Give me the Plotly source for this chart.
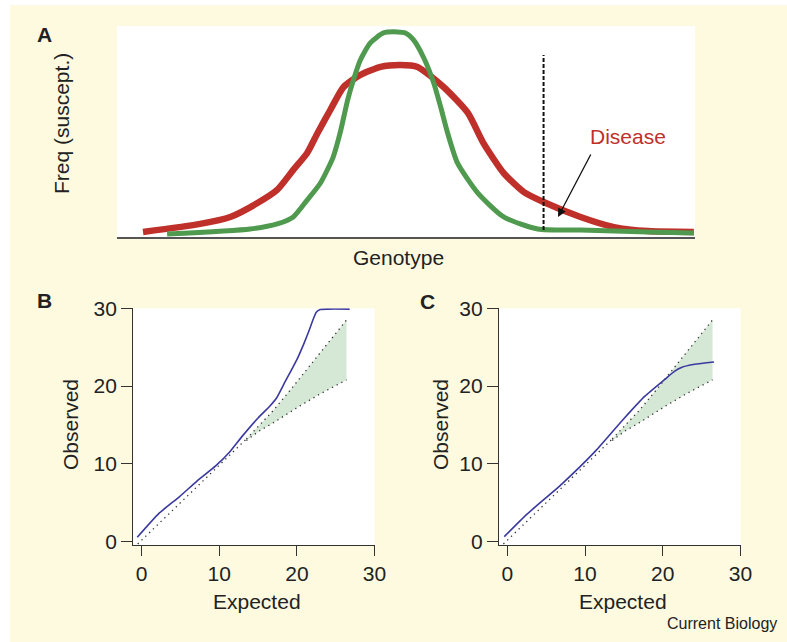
import plotly.graph_objects as go

# Page is 787x642; the body keeps its default 8px margin, so the figure is 771x626 placed at (8, 8).
PAGE_W, PAGE_H = 787, 642
OFF = 8
W, H = PAGE_W - 2 * OFF, PAGE_H - 2 * OFF

# ---------------- Panel A data (genotype scale 0-100, relative frequency) ----------------
green_x = [8.67, 23.05, 27.73, 30.5, 32.9, 35.2, 37.4, 38.6, 39.9, 40.9, 42.1, 43.8, 46.1, 48.5,
           49.9, 51.3, 53.0, 54.8, 56.0, 57.2, 58.9, 62.4, 66.9, 72.8, 80.2, 91.9, 99.8]
green_y = [0.014, 0.038, 0.062, 0.095, 0.175, 0.256, 0.379, 0.493, 0.649, 0.744, 0.839, 0.919, 0.967, 0.972,
           0.967, 0.934, 0.853, 0.730, 0.616, 0.493, 0.351, 0.209, 0.095, 0.038, 0.033, 0.024, 0.019]
red_x = [4.5, 14.4, 19.6, 24.3, 27.7, 30.5, 32.9, 34.7, 36.9, 39.2, 42.1, 45.6, 49.0, 52.0,
         56.5, 60.7, 63.4, 66.9, 70.4, 73.8, 80.2, 86.0, 91.9, 99.8]
red_y = [0.024, 0.062, 0.095, 0.161, 0.223, 0.318, 0.398, 0.493, 0.602, 0.711, 0.768, 0.806, 0.815, 0.806,
         0.711, 0.588, 0.445, 0.303, 0.213, 0.166, 0.095, 0.047, 0.028, 0.024]
threshold_x = 73.8
threshold_y = [0.033, 0.863]

# ---------------- Panels B / C data (QQ plots) ----------------
diag_x = [-0.5, 13.5]
diag_y = [-0.3, 13.2]
upper_x = [13.5, 17.0, 19.0, 21.3, 23.8, 26.4]
upper_y = [13.2, 16.9, 19.3, 22.2, 25.2, 28.5]
lower_x = [13.5, 15.1, 17.0, 20.3, 23.0, 26.4]
lower_y = [13.0, 14.2, 15.3, 17.4, 19.0, 20.8]

obsB_x = [-0.56, 2.2, 4.9, 7.1, 9.5, 11.4, 13.0, 15.0, 16.5, 17.4, 18.4, 19.1, 20.0, 20.8, 21.6, 22.1, 22.5, 23.0, 24.0, 26.8]
obsB_y = [0.56, 3.6, 5.8, 7.76, 9.7, 11.6, 13.6, 15.9, 17.4, 18.5, 20.4, 21.7, 23.4, 25.2, 27.2, 28.6, 29.5, 29.85, 29.9, 29.9]
obsC_x = [-0.39, 2.5, 7.0, 11.3, 14.9, 17.7, 20.3, 21.5, 22.4, 24.1, 26.6]
obsC_y = [0.64, 3.5, 7.4, 11.6, 15.7, 18.7, 20.9, 21.9, 22.4, 22.8, 23.1]

qq_ticks = [0, 10, 20, 30]

CREAM = "#fefae0"
RED = "#c0302b"
GREEN = "#4f9a4f"
BLUE = "#3a3a9e"
SHADE = "#d5e8d5"
TXT = "#222222"
FONT = "Liberation Sans, Arial, sans-serif"

def fx(px):
    return (px - OFF) / W

def fy(py):
    return 1 - (py - OFF) / H

fig = go.Figure()

fig.add_trace(go.Scatter(x=red_x, y=red_y, mode="lines", line=dict(color=RED, width=6.5, shape="spline", smoothing=0.6),
                         xaxis="x", yaxis="y", showlegend=False, hoverinfo="skip"))
fig.add_trace(go.Scatter(x=green_x, y=green_y, mode="lines", line=dict(color=GREEN, width=5, shape="spline", smoothing=0.6),
                         xaxis="x", yaxis="y", showlegend=False, hoverinfo="skip"))
fig.add_trace(go.Scatter(x=[threshold_x, threshold_x], y=threshold_y, mode="lines",
                         line=dict(color="#111111", width=2, dash="4px,2px"),
                         xaxis="x", yaxis="y", showlegend=False, hoverinfo="skip"))

for obs_x, obs_y, xa, ya in [(obsB_x, obsB_y, "x2", "y2"), (obsC_x, obsC_y, "x3", "y3")]:
    fig.add_trace(go.Scatter(x=lower_x, y=lower_y, mode="lines", line=dict(width=0, color=SHADE),
                             xaxis=xa, yaxis=ya, showlegend=False, hoverinfo="skip"))
    fig.add_trace(go.Scatter(x=upper_x, y=upper_y, mode="lines", line=dict(width=0, color=SHADE),
                             fill="tonexty", fillcolor=SHADE,
                             xaxis=xa, yaxis=ya, showlegend=False, hoverinfo="skip"))
    for lx, ly in [(diag_x, diag_y), (upper_x, upper_y), (lower_x, lower_y)]:
        fig.add_trace(go.Scatter(x=lx, y=ly, mode="lines", line=dict(color="#333333", width=1.3, dash="1.3px,4px"),
                                 xaxis=xa, yaxis=ya, showlegend=False, hoverinfo="skip"))
    fig.add_trace(go.Scatter(x=obs_x, y=obs_y, mode="lines", line=dict(color=BLUE, width=1.6, shape="spline", smoothing=0.5),
                             xaxis=xa, yaxis=ya, showlegend=False, hoverinfo="skip"))

qq_axis = dict(range=[-1.07, 30], tickvals=qq_ticks, ticks="outside", showline=True, linecolor="#333333",
               linewidth=1.3, tickcolor="#333333", tickwidth=1.3, showgrid=False, zeroline=False,
               automargin=False, tickfont=dict(family=FONT, size=21, color=TXT))

fig.update_layout(
    template="none",
    width=W, height=H, autosize=False,
    margin=dict(l=0, r=0, t=0, b=0, pad=0, autoexpand=False),
    paper_bgcolor=CREAM, plot_bgcolor="white",
    font=dict(family=FONT, color=TXT),
    xaxis=dict(domain=[fx(117), fx(695)], range=[0, 100], showline=True, linecolor="#555555", linewidth=1.5,
               showticklabels=False, ticks="", showgrid=False, zeroline=False, automargin=False),
    yaxis=dict(domain=[fy(237), fy(26)], range=[0, 1], showline=False, showticklabels=False, ticks="",
               showgrid=False, zeroline=False, automargin=False),
    xaxis2=dict(qq_axis, domain=[fx(133.3), fx(374.5)], anchor="y2", ticklen=10),
    yaxis2=dict(qq_axis, domain=[fy(545), fy(308.3)], range=[-0.43, 30], anchor="x2", ticklen=11),
    xaxis3=dict(qq_axis, domain=[fx(499), fx(740.5)], anchor="y3", ticklen=10),
    yaxis3=dict(qq_axis, domain=[fy(545), fy(308.3)], range=[-0.43, 30], anchor="x3", ticklen=11),
    shapes=[
        dict(type="rect", xref="paper", yref="paper", x0=0, x1=fx(10), y0=0, y1=1, fillcolor="white", line_width=0),
    ],
)

def txt(text, x, y, size=21, color=TXT, bold=False, angle=0, xanchor="center"):
    fig.add_annotation(text=("<b>%s</b>" % text) if bold else text, xref="paper", yref="paper",
                       x=fx(x), y=fy(y), xanchor=xanchor, yanchor="middle", showarrow=False, textangle=angle,
                       font=dict(family=FONT, size=size, color=color))

txt("A", 44.5, 34.5, size=21, bold=True)
txt("B", 44.5, 300, size=21, bold=True)
txt("C", 428, 301, size=21, bold=True)
txt("Freq (suscept.)", 62, 124, angle=-90)
txt("Genotype", 398, 258)
txt("Observed", 70, 425, angle=-90)
txt("Expected", 257, 601)
txt("Observed", 440, 425, angle=-90)
txt("Expected", 623, 601)
txt("Current Biology", 779, 623, size=16, xanchor="right")

fig.add_annotation(text="Disease", x=88.4, y=0.474, xref="x", yref="y", showarrow=False,
                   font=dict(family=FONT, size=21, color=RED))
fig.add_annotation(x=76.3, y=0.095, ax=82.1, ay=0.398, xref="x", yref="y", axref="x", ayref="y",
                   showarrow=True, arrowhead=2, arrowsize=1.3, arrowwidth=1.3, arrowcolor="#111111", text="")

# page background around the figure: white strips at the top/left edge, cream elsewhere
page_bg = ("document.documentElement.style.background="
           "'linear-gradient(to right,#ffffff 10px,transparent 10px),"
           "linear-gradient(to bottom,#ffffff 5px,%s 5px)';" % CREAM)
fig.write_html("out.html", post_script=page_bg, config={"displayModeBar": False})
